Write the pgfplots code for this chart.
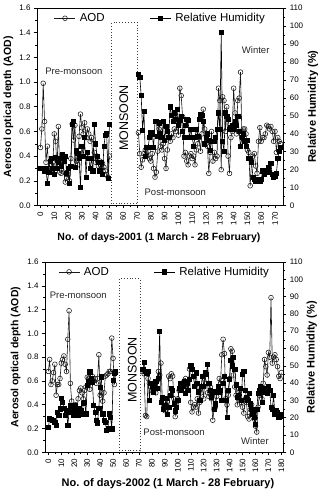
\documentclass[border=0pt]{standalone}
\usepackage{pgfplots}
\pgfplotsset{compat=1.18}
\usepackage{pgfplotstable}
\usepackage{fontspec}
\setmainfont{Liberation Sans}

% ---------- data: year 2001 ----------
\pgfplotstableread{
day aod
0 0.47
1 0.62
2 0.99
3 0.68
4 0.35
5 0.48
6 0.30
7 0.28
8 0.33
9 0.35
10 0.58
11 0.52
12 0.30
13 0.64
14 0.27
15 0.26
16 0.35
17 0.27
18 0.19
19 0.22
20 0.25
21 0.20
22 0.38
23 0.66
24 0.53
25 0.65
26 0.36
27 0.33
28 0.56
29 0.74
30 0.63
31 0.58
32 0.67
33 0.55
34 0.62
35 0.58
36 0.52
37 0.55
38 0.38
39 0.43
40 0.35
41 0.40
42 0.32
43 0.36
44 0.30
45 0.34
46 0.31
47 0.28
48 0.25
49 0.23
50 0.40
60 nan
71 0.59
72 0.42
73 0.31
74 0.37
75 0.42
76 0.45
77 0.40
78 0.44
79 0.38
80 0.36
81 0.42
82 0.30
83 0.23
84 0.27
85 0.44
86 0.62
87 0.48
88 0.45
89 0.50
90 0.38
91 0.30
92 0.45
93 0.55
94 0.52
95 0.58
96 0.55
97 0.62
98 0.60
99 0.70
100 0.57
101 0.95
102 0.89
103 0.72
104 0.40
105 0.43
106 0.36
107 0.33
108 0.40
109 0.42
110 0.38
111 0.40
112 0.33
113 0.45
114 0.50
115 0.55
116 0.44
117 0.58
118 0.78
119 0.62
120 0.50
121 0.48
122 0.26
123 0.43
124 0.60
125 0.36
126 0.43
127 0.38
128 0.40
129 0.95
130 0.85
131 0.29
132 0.88
133 0.85
134 0.60
135 0.80
136 0.40
137 0.26
138 0.55
139 0.60
140 0.95
141 0.75
142 0.58
143 0.85
144 0.87
145 1.08
146 0.55
147 0.62
148 0.62
149 0.58
150 0.45
151 0.43
152 0.16
153 0.36
154 0.40
155 0.42
156 0.32
157 0.26
158 0.52
159 0.63
160 0.52
161 0.55
162 0.55
163 0.58
164 0.65
165 0.64
166 0.62
167 0.64
168 0.60
169 0.52
170 0.60
171 0.43
172 0.55
173 0.52
174 0.50
}\aodA

\pgfplotstableread{
day rh
0 20.6
1 20.6
2 20.6
3 19.3
4 20.6
5 12.4
6 18.6
7 24.8
8 26.1
9 20.6
10 17.2
11 26.8
12 20.6
13 24.1
14 26.1
15 22.0
16 28.2
17 24.8
18 27.5
19 17.9
20 20.6
21 12.4
22 22.0
23 45.4
24 46.8
25 21.3
26 30.9
27 28.9
28 26.1
29 10.3
30 33.0
31 27.5
32 37.8
33 15.8
34 29.6
35 26.1
36 20.6
37 26.1
38 19.3
39 45.4
40 34.4
41 27.5
42 24.1
43 19.3
44 24.1
45 17.2
46 33.0
47 39.2
48 39.9
49 15.1
50 45.4
60 nan
71 72.9
72 71.5
73 61.2
74 41.9
75 52.3
76 27.5
77 32.3
78 32.3
79 37.8
80 40.6
81 39.9
82 32.3
83 46.8
84 46.8
85 38.5
86 46.1
87 39.9
88 37.8
89 46.8
90 36.4
91 44.0
92 41.3
93 37.8
94 55.0
95 50.2
96 46.8
97 51.6
98 48.1
99 53.6
100 44.7
101 47.4
102 49.5
103 41.3
104 37.8
105 44.7
106 48.1
107 47.4
108 37.8
109 42.6
110 37.8
111 33.0
112 37.8
113 42.6
114 38.5
115 48.1
116 50.9
117 50.2
118 46.8
119 34.4
120 37.8
121 39.9
122 36.4
123 30.9
124 35.8
125 35.8
126 35.8
127 37.8
128 42.6
129 51.6
130 42.6
131 96.3
132 35.8
133 30.3
134 51.6
135 49.5
136 48.1
137 42.6
138 43.3
139 44.7
140 42.6
141 46.8
142 44.7
143 49.5
144 41.3
145 33.0
146 37.8
147 39.9
148 35.8
149 33.0
150 36.4
151 26.1
152 26.1
153 24.1
154 15.8
155 14.4
156 13.8
157 13.8
158 14.4
159 13.8
160 14.4
161 19.3
162 17.2
163 18.6
164 19.3
165 21.3
166 18.6
167 23.4
168 17.2
169 15.8
170 16.5
171 17.9
172 26.1
173 30.3
174 32.3
}\rhA

% ---------- data: year 2002 ----------
\pgfplotstableread{
day aod
0 0.68
1 0.78
2 0.57
3 0.60
4 0.67
5 0.74
6 0.48
7 0.57
8 0.57
9 0.62
10 0.75
11 0.78
12 0.81
13 0.74
14 0.68
15 0.95
16 1.19
17 0.58
18 0.43
19 0.35
20 0.33
21 0.40
22 0.35
23 0.45
24 0.52
25 0.54
26 0.50
27 0.45
28 0.52
29 0.55
30 0.63
31 0.62
32 0.53
33 0.60
34 0.64
35 0.60
36 0.62
37 0.58
38 0.62
39 0.82
40 0.48
41 0.50
42 0.43
43 0.50
44 0.64
45 0.65
46 0.66
47 0.68
48 0.68
49 0.96
50 0.79
51 0.57
52 0.67
62 nan
73 0.68
74 0.66
75 0.31
76 0.30
77 0.62
78 0.58
79 0.55
80 0.52
81 0.58
82 0.55
83 0.50
84 0.60
85 0.68
86 0.65
87 0.75
88 0.45
89 0.38
90 0.35
91 0.40
92 0.43
93 0.64
94 0.62
95 0.66
96 0.64
97 0.45
98 0.30
99 0.40
100 0.45
101 0.52
102 0.55
103 0.58
104 0.55
105 0.60
106 0.62
107 0.58
108 0.52
109 0.70
110 0.42
111 0.34
112 0.38
113 0.40
114 0.38
115 0.45
116 0.33
117 0.42
118 0.50
119 0.55
120 0.45
121 0.65
122 0.58
123 0.50
124 0.47
125 0.55
126 0.45
127 0.27
128 0.36
129 0.38
130 0.47
131 0.52
132 0.62
133 0.58
134 0.82
135 0.95
136 0.83
137 0.45
138 0.40
139 0.48
140 0.62
141 0.87
142 0.85
143 0.65
144 0.55
145 0.48
146 0.40
147 0.45
148 0.52
149 0.42
150 0.38
151 0.33
152 0.45
153 0.42
154 0.30
155 0.28
156 0.36
157 0.40
158 0.33
159 0.28
160 0.22
161 0.17
162 0.38
163 0.48
164 0.52
165 0.45
166 0.58
167 0.78
168 0.72
169 0.65
170 0.84
171 0.80
172 1.30
173 0.75
174 0.80
175 0.82
176 0.78
177 0.72
178 0.64
179 0.62
180 0.67
}\aodB

\pgfplotstableread{
day rh
0 14.5
1 19.4
2 19.0
3 18.4
4 18.4
5 17.4
6 15.5
7 23.2
8 21.3
9 25.2
10 31.0
11 29.0
12 25.6
13 21.3
14 24.2
15 15.5
16 23.2
17 27.1
18 24.2
19 21.3
20 25.2
21 27.1
22 22.3
23 21.3
24 25.2
25 24.2
26 22.3
27 28.1
28 29.0
29 22.3
30 38.7
31 40.7
32 46.5
33 42.6
34 40.3
35 27.1
36 23.2
37 18.4
38 17.0
39 25.6
40 37.8
41 43.6
42 22.3
43 18.4
44 17.4
45 12.6
46 13.6
47 22.3
48 20.3
49 13.6
50 41.6
51 45.5
52 46.5
62 nan
73 48.0
74 51.8
75 47.0
76 46.0
77 47.0
78 30.0
79 40.0
80 38.0
81 35.0
82 39.0
83 41.0
84 37.0
85 43.0
86 70.0
87 29.0
88 32.0
89 25.0
90 27.0
91 31.0
92 22.0
93 26.0
94 33.0
95 37.0
96 36.0
97 28.0
98 24.0
99 26.0
100 30.0
101 37.0
102 40.0
103 36.0
104 38.0
105 41.0
106 34.0
107 40.0
108 36.0
109 42.0
110 50.0
111 48.0
112 44.0
113 38.0
114 46.0
115 40.0
116 35.0
117 30.0
118 38.0
119 44.0
120 38.0
121 46.0
122 45.0
123 51.0
124 40.0
125 36.0
126 32.0
127 35.0
128 25.0
129 28.0
130 35.0
131 38.0
132 35.0
133 36.0
134 30.0
135 40.0
136 44.0
137 30.0
138 20.0
139 36.0
140 42.0
141 53.0
142 50.0
143 55.0
144 48.0
145 39.0
146 32.0
147 33.0
148 37.0
149 30.0
150 45.0
151 47.0
152 36.0
153 32.0
154 30.0
155 34.0
156 28.0
157 25.0
158 22.0
159 20.0
160 16.0
161 25.0
162 34.0
163 36.0
164 38.0
165 29.0
166 35.0
167 36.0
168 37.0
169 34.0
170 38.0
171 36.0
172 26.0
173 25.0
174 33.0
175 22.0
176 24.0
177 23.0
178 20.0
179 22.0
180 21.0
}\rhB

\tikzset{
  monsoon/.style={black!75, line width=0.9pt, dash pattern=on 0.9pt off 2pt},
  note/.style={font=\fontsize{9.5}{11}\selectfont, black!85},
}

\pgfplotsset{
  base/.style={
    scale only axis,
    anchor=south west,
    unbounded coords=jump,
    tick align=outside,
    major tick length=3pt,
    minor tick length=1.6pt,
    every tick/.style={black, line width=0.5pt},
    axis line style={line width=0.6pt},
    /pgf/number format/assume math mode=true,
    tick label style={font=\fontsize{8}{9}\selectfont},
    label style={font=\bfseries\fontsize{10.5}{12}\selectfont},
  },
  aodaxis/.style={
    base,
    ymin=0, ymax=1.6,
    ytick={0,0.2,...,1.6},
    minor y tick num=1,
    minor x tick num=1,
    xtick pos=bottom, ytick pos=left,
    yticklabel style={/pgf/number format/fixed,/pgf/number format/fixed zerofill,/pgf/number format/precision=1},
    xticklabel style={rotate=90, anchor=east},
    ylabel={Aerosol optical depth (AOD)},
    ylabel style={anchor=center},
    xlabel style={anchor=center},
  },
  rhaxis/.style={
    base,
    ymin=0, ymax=110,
    ytick={0,10,...,110},
    minor y tick num=1,
    axis y line*=right,
    axis x line=none,
    ylabel={Relative Humidity (\%)},
    ylabel style={anchor=center, font=\bfseries\fontsize{11}{12}\selectfont},
    legend columns=2,
    legend style={draw=none, fill=none, inner sep=0pt, font=\fontsize{11.5}{13}\selectfont},
    legend cell align=left,
    /tikz/every odd column/.append style={column sep=2pt},
    /tikz/every even column/.append style={column sep=43pt},
    legend image code/.code={%
      \draw[mark repeat=2,mark phase=2,##1] plot coordinates {(0pt,0pt) (10.5pt,0pt) (21pt,0pt)};},
  },
  aodline/.style={black!90, line width=0.6pt, mark=o, mark size=2.4pt,
    mark options={fill=white, solid, line width=0.55pt}},
  rhline/.style={black, line width=0.6pt, mark=square*, mark size=2.1pt,
    mark options={solid}},
}

\begin{document}
\begin{tikzpicture}
\path[use as bounding box] (0,0) rectangle (323pt,494pt);

% ===== 2001 =====
\begin{axis}[aodaxis,
  at={(37pt,288.5pt)}, width=246.3pt, height=197.5pt,
  xmin=-2.5, xmax=176, xtick={0,10,...,170},
  xlabel={No. of days-2001 (1 March - 28 February)},
  xlabel style={at={(axis description cs:0.495,-0.161)}},
  ylabel style={at={(axis description cs:-0.1165,0.5)}, rotate=0},
]
\addplot[aodline] table[x=day, y=aod] {\aodA};
\draw[monsoon] (axis cs:51.6,0.015) rectangle (axis cs:70.5,1.48);
\node[note] at (axis cs:24.2,1.084) {Pre-monsoon};
\node[note, rotate=90, black, font=\fontsize{12.5}{13}\selectfont] at (axis cs:60.5,0.709) {MONSOON};
\node[note] at (axis cs:97.7,0.107) {Post-monsoon};
\node[note] at (axis cs:156,1.26) {Winter};
\end{axis}
\begin{axis}[rhaxis,
  at={(37pt,288.5pt)}, width=246.3pt, height=197.5pt,
  xmin=-2.5, xmax=176,
  ylabel style={at={(axis description cs:1.1206,0.5)}},
  legend style={at={(axis description cs:0.069,0.948)}, anchor=west},
]
\addlegendimage{aodline}
\addlegendentry{AOD}
\addplot[rhline] table[x=day, y=rh] {\rhA};
\addlegendentry{Relative Humidity}
\end{axis}

% ===== 2002 =====
\begin{axis}[aodaxis,
  at={(45pt,41.7pt)}, width=238.3pt, height=190.3pt,
  xmin=-2.6, xmax=181.5, xtick={0,10,...,180},
  xlabel={No. of days-2002 (1 March - 28 February)},
  xlabel style={at={(axis description cs:0.516,-0.163)}, font=\bfseries\fontsize{11}{12}\selectfont},
  ylabel style={at={(axis description cs:-0.123,0.5)}},
]
\addplot[aodline] table[x=day, y=aod] {\aodB};
\draw[monsoon] (axis cs:54.6,0.012) rectangle (axis cs:70.8,1.46);
\node[note] at (axis cs:23.1,1.317) {Pre-monsoon};
\node[note, rotate=90, black, font=\fontsize{12.5}{13}\selectfont] at (axis cs:64.8,0.692) {MONSOON};
\node[note] at (axis cs:97.1,0.165) {Post-monsoon};
\node[note] at (axis cs:159.6,0.095) {Winter};
\end{axis}
\begin{axis}[rhaxis,
  at={(45pt,41.7pt)}, width=238.3pt, height=190.3pt,
  xmin=-2.6, xmax=181.5,
  ylabel style={at={(axis description cs:1.119,0.5)}},
  legend style={at={(axis description cs:0.055,0.948)}, anchor=west},
]
\addlegendimage{aodline}
\addlegendentry{AOD}
\addplot[rhline] table[x=day, y=rh] {\rhB};
\addlegendentry{Relative Humidity}
\end{axis}
\end{tikzpicture}
\end{document}
